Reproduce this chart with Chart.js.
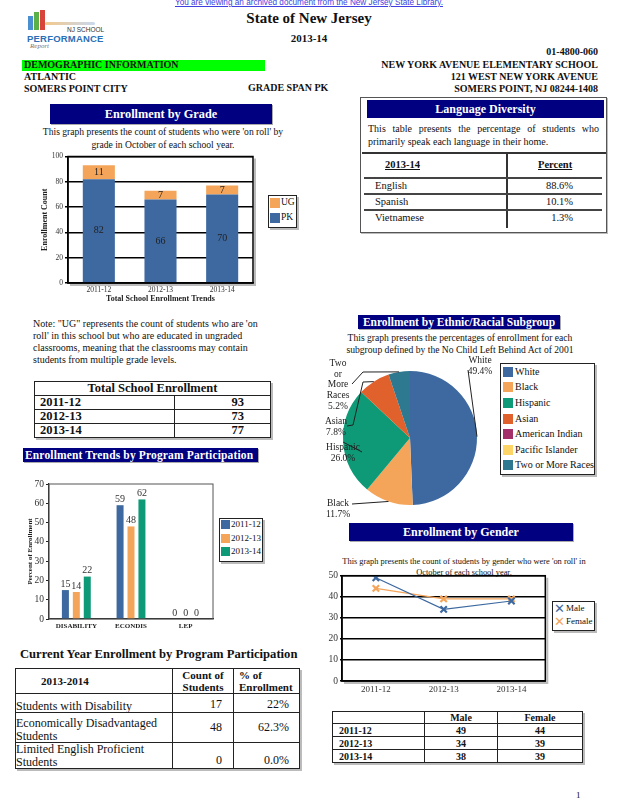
<!DOCTYPE html>
<html>
<head>
<meta charset="utf-8">
<script src="https://cdn.jsdelivr.net/npm/chart.js@4.4.1/dist/chart.umd.min.js"></script>
<style>
body { margin: 0; background: #fff; font-family: "Liberation Serif", "Times New Roman", serif; color: #111; }
#page { position: relative; width: 618px; height: 800px; overflow: hidden; }
.t { position: absolute; white-space: nowrap; line-height: 1; }
.b { font-weight: bold; }
.hdr { position: absolute; background: #000080; color: #fff; font-weight: bold; text-align: center; white-space: nowrap; box-shadow: 1px 1px 0 #aaa; }
canvas { position: absolute; }
table { position: absolute; border-collapse: collapse; table-layout: fixed; }
td { padding: 0; border: 1.5px solid #222; overflow: hidden; }
.lg { position: absolute; border: 1.5px solid #222; box-shadow: 2px 2px 0 #bbb; background: #fff; }
.lgi { position: absolute; white-space: nowrap; line-height: 1; }
.sw { display: inline-block; vertical-align: middle; }
</style>
</head>
<body>
<div id="page">
  <div class="t" style="left:0;width:618px;text-align:center;top:-1px;font-family:'Liberation Sans',Arial,sans-serif;font-size:8.2px;color:#4040e0;text-decoration:underline">You are viewing an archived document from the New Jersey State Library.</div>

  <!-- логотип -->
  <div style="position:absolute;left:28px;top:16px;width:5px;height:14px;background:#4a8fd0"></div>
  <div style="position:absolute;left:34px;top:12px;width:5px;height:18px;background:#5bb04a"></div>
  <div style="position:absolute;left:40px;top:10px;width:5px;height:20px;background:#d8443a"></div>
  <div style="position:absolute;left:45px;top:22px;width:50px;height:3px;background:linear-gradient(90deg,#f3c98a,#c9d8f0);border-radius:3px"></div>
  <div class="t" style="left:67px;top:27px;font-family:'Liberation Sans',sans-serif;font-size:6.5px;color:#333">NJ SCHOOL</div>
  <div class="t b" style="left:27px;top:34px;font-family:'Liberation Sans',sans-serif;font-size:9.5px;color:#2a6fb8;letter-spacing:0.2px">PERFORMANCE</div>
  <div class="t" style="left:30px;top:43px;font-family:'Liberation Serif',serif;font-style:italic;font-size:7px;color:#777">Report</div>

  <div class="t b" style="left:0;width:618px;text-align:center;top:11px;font-size:15px">State of New Jersey</div>
  <div class="t b" style="left:0;width:618px;text-align:center;top:33px;font-size:11px">2013-14</div>

  <div class="t b" style="right:20px;top:47px;font-size:10px">01-4800-060</div>
  <div style="position:absolute;left:22px;top:60px;width:243px;height:11px;background:#00ff00"></div>
  <div class="t b" style="left:24px;top:60px;font-size:10px">DEMOGRAPHIC INFORMATION</div>
  <div class="t b" style="right:20px;top:60px;font-size:10px">NEW YORK AVENUE ELEMENTARY SCHOOL</div>
  <div class="t b" style="left:24px;top:72px;font-size:10px">ATLANTIC</div>
  <div class="t b" style="right:20px;top:72px;font-size:10px">121 WEST NEW YORK AVENUE</div>
  <div class="t b" style="left:24px;top:84px;font-size:10px">SOMERS POINT CITY</div>
  <div class="t b" style="left:248px;top:83px;font-size:10px">GRADE SPAN PK</div>
  <div class="t b" style="right:20px;top:84px;font-size:10px">SOMERS POINT, NJ 08244-1408</div>

  <!-- Enrollment by Grade -->
  <div class="hdr" style="left:50px;top:104px;width:222px;height:20px;line-height:20px;font-size:12.3px">Enrollment by Grade</div>
  <div class="t" style="left:30px;width:266px;top:126px;text-align:center;font-size:9.6px;line-height:12.5px;white-space:normal">This graph presents the count of students who were 'on roll' by<br>grade in October of each school year.</div>
  <canvas id="gradeChart" width="222" height="160" style="left:38px;top:150px"></canvas>
  <div id="gradeLegend" class="lg" style="left:268px;top:195px;width:27px;height:31px"></div>

  <!-- Language Diversity -->
  <div style="position:absolute;left:360px;top:97px;width:245px;height:134px;border:1.5px solid #555;box-shadow:1px 1px 0 #bbb"></div>
  <div class="hdr" style="left:367px;top:100px;width:237px;height:18px;line-height:18px;font-size:12px;box-shadow:none">Language Diversity</div>
  <div style="position:absolute;left:368px;top:123px;width:231px;font-size:10px;line-height:12.5px;text-align:justify;text-align-last:left">This table presents the percentage of students who primarily speak each language in their home.</div>
  <div style="position:absolute;left:362px;top:152px;width:244px;height:1.5px;background:#333"></div>
  <div id="langTable"></div>

  <!-- Note + total -->
  <div style="position:absolute;left:33px;top:318px;width:240px;font-size:10px;line-height:12px">Note: "UG" represents the count of students who are 'on<br>roll' in this school but who are educated in ungraded<br>classrooms, meaning that the classrooms may contain<br>students from multiple grade levels.</div>
  <table id="totalTable" style="left:34px;top:381px;width:236px;box-shadow:2px 2px 0 #bbb"></table>

  <!-- Program participation -->
  <div class="hdr" style="left:23px;top:448px;width:235px;height:14px;line-height:14px;font-size:11.5px;letter-spacing:0.15px;text-align:left;padding-left:2px;box-sizing:border-box">Enrollment Trends by Program Participation</div>
  <canvas id="programChart" width="192" height="156" style="left:24px;top:476px"></canvas>
  <div id="programLegend" class="lg" style="left:219px;top:518px;width:42px;height:42px"></div>

  <div class="t b" style="left:20px;top:648px;font-size:12.6px">Current Year Enrollment by Program Participation</div>
  <table id="currentTable" style="left:15px;top:668px;width:284px;box-shadow:2px 2px 0 #bbb"></table>

  <!-- Ethnic -->
  <div class="hdr" style="left:358px;top:315px;width:202px;height:14px;line-height:14px;font-size:11.5px">Enrollment by Ethnic/Racial Subgroup</div>
  <div class="t" style="left:330px;width:260px;top:332px;text-align:center;font-size:9.6px;line-height:11.5px">This graph presents the percentages of enrollment for each<br>subgroup defined by the No Child Left Behind Act of 2001</div>
  <canvas id="raceChart" width="180" height="170" style="left:320px;top:352px"></canvas>
  <div id="raceLegend" class="lg" style="left:500px;top:363px;width:93px;height:110px"></div>

  <!-- Gender -->
  <div class="hdr" style="left:349px;top:523px;width:224px;height:18px;line-height:18px;font-size:12px">Enrollment by Gender</div>
  <div class="t" style="left:320px;width:288px;top:557px;text-align:center;font-size:8.4px;line-height:10.5px">This graph presents the count of students by gender who were 'on roll' in<br>October of each school year.</div>
  <canvas id="genderChart" width="232" height="128" style="left:320px;top:568px"></canvas>
  <div id="genderLegend" class="lg" style="left:552px;top:601px;width:41px;height:28px"></div>
  <table id="genderTable" style="left:332px;top:711px;width:250px;box-shadow:2px 2px 0 #bbb"></table>

  <div class="t" style="left:576px;top:791px;font-size:9px">1</div>
</div>

<script>
// Данные
const years = ['2011-12', '2012-13', '2013-14'];
const pkCounts = [82, 66, 70];
const ugCounts = [11, 7, 7];
const totalEnroll = [93, 73, 77];

const langNames = ['English', 'Spanish', 'Vietnamese'];
const langPct = ['88.6%', '10.1%', '1.3%'];

const programCats = ['DISABILITY', 'ECONDIS', 'LEP'];
const prog1112 = [15, 59, 0];
const prog1213 = [14, 48, 0];
const prog1314 = [22, 62, 0];

const currentRows = ['Students with Disability', 'Economically Disadvantaged Students', 'Limited English Proficient Students'];
const currentCounts = [17, 48, 0];
const currentPct = ['22%', '62.3%', '0.0%'];

const raceLabels = ['White', 'Black', 'Hispanic', 'Asian', 'American Indian', 'Pacific Islander', 'Two or More Races'];
const racePct = [49.4, 11.7, 26.0, 7.8, 0, 0, 5.2];

const maleCounts = [49, 34, 38];
const femaleCounts = [44, 39, 39];

// Цвета
const BLUE = '#3d69a0';
const ORANGE = '#f4a55a';
const GREEN = '#0e9a76';
const raceColors = [BLUE, ORANGE, GREEN, '#e0612b', '#a3306b', '#fdd466', '#2e7890'];
const SERIF = '"Liberation Serif", "Times New Roman", serif';

// Рамка вокруг области графика
const framePlugin = {
    id: 'frame',
    afterDraw(chart, args, opts) {
        const a = chart.chartArea;
        const ctx = chart.ctx;
        ctx.save();
        if (opts.shadow) {
            ctx.strokeStyle = '#bbb';
            ctx.lineWidth = 2;
            ctx.beginPath();
            ctx.moveTo(a.right + 2, a.top + 2);
            ctx.lineTo(a.right + 2, a.bottom + 2);
            ctx.lineTo(a.left + 2, a.bottom + 2);
            ctx.stroke();
        }
        ctx.strokeStyle = opts.color || '#000';
        ctx.lineWidth = opts.width || 1.5;
        ctx.strokeRect(a.left, a.top, a.right - a.left, a.bottom - a.top);
        ctx.restore();
    }
};

// Подписи значений на столбцах
const barValuesPlugin = {
    id: 'barValues',
    afterDatasetsDraw(chart, args, opts) {
        const ctx = chart.ctx;
        ctx.save();
        ctx.font = opts.font;
        ctx.fillStyle = opts.color;
        ctx.textAlign = 'center';
        chart.data.datasets.forEach((ds, i) => {
            chart.getDatasetMeta(i).data.forEach((bar, j) => {
                const v = ds.data[j];
                if (opts.inside) {
                    ctx.textBaseline = 'middle';
                    ctx.fillText(v, bar.x, (bar.y + bar.base) / 2);
                } else {
                    ctx.textBaseline = 'bottom';
                    ctx.fillText(v, bar.x, bar.y - 1);
                }
            });
        });
        ctx.restore();
    }
};

// Выноски для круговой диаграммы (смещения от центра круга)
const raceCallouts = {
    0: { dx: 70, dy: -82, path: [[58, -68]] },
    1: { dx: -72, dy: 61, path: [[-58, 66]] },
    2: { dx: -67, dy: 5, path: [[-48, 14]] },
    3: { dx: -74, dy: -21, path: [[-47, -56], [-57, -13], [-63, -12]] },
    6: { dx: -72, dy: -79, path: [[-47, -66], [-58, -54]] }
};

const pieCalloutPlugin = {
    id: 'pieCallouts',
    afterDatasetsDraw(chart) {
        const ctx = chart.ctx;
        const meta = chart.getDatasetMeta(0);
        ctx.save();
        ctx.strokeStyle = '#222';
        ctx.lineWidth = 1;
        ctx.fillStyle = '#222';
        ctx.font = '9.5px ' + SERIF;
        ctx.textAlign = 'center';
        ctx.textBaseline = 'top';
        meta.data.forEach((arc, i) => {
            const c = raceCallouts[i];
            if (!c || !racePct[i]) return;
            const mid = (arc.startAngle + arc.endAngle) / 2;
            const ex = arc.x + Math.cos(mid) * arc.outerRadius;
            const ey = arc.y + Math.sin(mid) * arc.outerRadius;
            ctx.beginPath();
            ctx.moveTo(ex, ey);
            c.path.forEach(p => ctx.lineTo(arc.x + p[0], arc.y + p[1]));
            ctx.stroke();
            const words = i === 6 ? raceLabels[i].replace(' Races', '').split(' ').concat(['Races']) : [raceLabels[i]];
            const lines = words.concat([racePct[i].toFixed(1) + '%']);
            lines.forEach((ln, k) => {
                ctx.fillText(ln, arc.x + c.dx, arc.y + c.dy + k * 10.6);
            });
        });
        ctx.restore();
    }
};

function tickFont(size, bold) {
    return { family: SERIF, size: size, weight: bold ? 'bold' : 'normal' };
}

// График 1: Enrollment by Grade
new Chart(document.getElementById('gradeChart'), {
    type: 'bar',
    data: {
        labels: years,
        datasets: [
            { label: 'PK', data: pkCounts, backgroundColor: BLUE, barPercentage: 0.52, categoryPercentage: 1 },
            { label: 'UG', data: ugCounts, backgroundColor: ORANGE, barPercentage: 0.52, categoryPercentage: 1 }
        ]
    },
    options: {
        responsive: false,
        animation: false,
        layout: { padding: { top: 6, right: 7, left: 0, bottom: 0 } },
        plugins: {
            legend: { display: false },
            tooltip: { enabled: false },
            frame: { color: '#000', width: 1.5, shadow: true },
            barValues: { font: '10px ' + SERIF, color: '#222', inside: true }
        },
        scales: {
            x: {
                stacked: true,
                grid: { display: false, drawTicks: false },
                border: { color: '#000', width: 1.5 },
                ticks: { font: tickFont(7.5), color: '#333', padding: 3 },
                title: { display: true, text: 'Total School Enrollment Trends', font: tickFont(8, true), color: '#222', padding: { top: 0, bottom: 6 } },
                afterFit: s => { s.height = 27; }
            },
            y: {
                stacked: true,
                min: 0,
                max: 100,
                ticks: { stepSize: 20, font: tickFont(7.5), color: '#333', padding: 2 },
                grid: { color: '#000', lineWidth: 1.5, tickLength: 3 },
                border: { color: '#000', width: 1.5 },
                title: { display: true, text: 'Enrollment Count', font: tickFont(8, true), color: '#222', padding: { top: 2, bottom: 0 } },
                afterFit: s => { s.width = 30; }
            }
        }
    },
    plugins: [framePlugin, barValuesPlugin]
});

// График 2: Program Participation
new Chart(document.getElementById('programChart'), {
    type: 'bar',
    data: {
        labels: programCats,
        datasets: [
            { label: '2011-12', data: prog1112, backgroundColor: BLUE },
            { label: '2012-13', data: prog1213, backgroundColor: ORANGE },
            { label: '2013-14', data: prog1314, backgroundColor: GREEN }
        ]
    },
    options: {
        responsive: false,
        animation: false,
        datasets: { bar: { barPercentage: 0.64, categoryPercentage: 0.6 } },
        layout: { padding: { top: 8, right: 3, left: 0, bottom: 0 } },
        plugins: {
            legend: { display: false },
            tooltip: { enabled: false },
            frame: { color: '#555', width: 1 },
            barValues: { font: '10px ' + SERIF, color: '#333', inside: false }
        },
        scales: {
            x: {
                grid: { display: false, drawTicks: false },
                border: { color: '#222', width: 1.2 },
                ticks: { font: tickFont(7, true), color: '#222', padding: 3 },
                afterFit: s => { s.height = 13; }
            },
            y: {
                min: 0,
                max: 70,
                ticks: { stepSize: 10, font: tickFont(9.5), color: '#333', padding: 2 },
                grid: { drawOnChartArea: false, color: '#222', tickLength: 3 },
                border: { color: '#222', width: 1.2 },
                title: { display: true, text: 'Percent of Enrollment', font: tickFont(7, true), color: '#222', padding: { top: 2, bottom: 0 } },
                afterFit: s => { s.width = 25; }
            }
        }
    },
    plugins: [framePlugin, barValuesPlugin]
});

// График 3: Ethnic/Racial
new Chart(document.getElementById('raceChart'), {
    type: 'pie',
    data: {
        labels: raceLabels,
        datasets: [{ data: racePct, backgroundColor: raceColors, borderWidth: 0 }]
    },
    options: {
        responsive: false,
        animation: false,
        layout: { padding: { left: 23, right: 23, top: 19, bottom: 17 } },
        plugins: { legend: { display: false }, tooltip: { enabled: false } }
    },
    plugins: [pieCalloutPlugin]
});

// График 4: Gender
new Chart(document.getElementById('genderChart'), {
    type: 'line',
    data: {
        labels: years,
        datasets: [
            { label: 'Male', data: maleCounts, borderColor: BLUE, backgroundColor: BLUE, borderWidth: 1.2, pointStyle: 'crossRot', pointRadius: 4.5, pointBorderWidth: 2.2 },
            { label: 'Female', data: femaleCounts, borderColor: ORANGE, backgroundColor: ORANGE, borderWidth: 1.2, pointStyle: 'crossRot', pointRadius: 4.5, pointBorderWidth: 2.2 }
        ]
    },
    options: {
        responsive: false,
        animation: false,
        layout: { padding: { top: 7, right: 4, left: 0, bottom: 0 } },
        plugins: {
            legend: { display: false },
            tooltip: { enabled: false },
            frame: { color: '#000', width: 1.5, shadow: true }
        },
        scales: {
            x: {
                offset: true,
                grid: { display: false, drawTicks: false },
                border: { color: '#000', width: 1.5 },
                ticks: { font: tickFont(9), color: '#333', padding: 3 },
                afterFit: s => { s.height = 15; }
            },
            y: {
                min: 0,
                max: 50,
                ticks: { stepSize: 10, font: tickFont(9.5), color: '#333', padding: 2 },
                grid: { color: '#000', lineWidth: 1.5, tickLength: 2 },
                border: { color: '#000', width: 1.5 },
                afterFit: s => { s.width = 22; }
            }
        }
    },
    plugins: [framePlugin]
});

// Легенды
function boxLegend(id, labels, colors, opt) {
    const el = document.getElementById(id);
    labels.forEach((lab, i) => {
        const d = document.createElement('div');
        d.className = 'lgi';
        d.style.left = opt.left + 'px';
        d.style.top = (opt.top + i * opt.step) + 'px';
        d.style.fontSize = opt.font + 'px';
        d.style.fontFamily = SERIF;
        const mark = opt.cross
            ? '<span class="sw" style="width:' + opt.sw + 'px;height:' + opt.sw + 'px;font-size:13px;line-height:' + opt.sw + 'px;color:' + colors[i] + ';font-family:\'DejaVu Sans\';font-weight:bold">✕</span>'
            : '<span class="sw" style="width:' + opt.sw + 'px;height:' + opt.sw + 'px;background:' + colors[i] + '"></span>';
        d.innerHTML = mark + '<span style="vertical-align:middle;margin-left:' + (opt.gap || 2) + 'px">' + lab + '</span>';
        el.appendChild(d);
    });
}
boxLegend('gradeLegend', ['UG', 'PK'], [ORANGE, BLUE], { left: 1, top: 2, step: 15, font: 9.5, sw: 10, gap: 1 });
boxLegend('programLegend', years, [BLUE, ORANGE, GREEN], { left: 1, top: 1, step: 13.5, font: 9, sw: 9, gap: 1 });
boxLegend('raceLegend', raceLabels, raceColors, { left: 2, top: 2, step: 15.6, font: 10, sw: 10, gap: 2 });
boxLegend('genderLegend', ['Male', 'Female'], [BLUE, ORANGE], { left: 1, top: 1, step: 13, font: 9, sw: 11, cross: true, gap: 1 });

// Таблицы
const lt = document.getElementById('langTable');
let html = '<div class="t b" style="left:385px;top:160px;font-size:10.5px;text-decoration:underline">2013-14</div>' +
    '<div class="t b" style="left:538px;top:160px;font-size:10.5px;text-decoration:underline">Percent</div>' +
    '<div style="position:absolute;left:506px;top:153px;width:1.5px;height:75px;background:#333"></div>';
const langRowTops = [177, 193, 209];
langNames.forEach((n, i) => {
    html += '<div style="position:absolute;left:364px;top:' + langRowTops[i] + 'px;width:238px;height:1.5px;background:#444"></div>';
    html += '<div class="t" style="left:375px;top:' + (langRowTops[i] + 4) + 'px;font-size:10.5px">' + n + '</div>';
    html += '<div class="t" style="right:45px;top:' + (langRowTops[i] + 4) + 'px;font-size:10.5px">' + langPct[i] + '</div>';
});
lt.innerHTML = html;

let tt = '<colgroup><col style="width:140px"><col style="width:96px"></colgroup>' +
    '<tr style="height:14px"><td colspan="2" class="b" style="text-align:center;font-size:12.5px;line-height:13px">Total School Enrollment</td></tr>';
years.forEach((y, i) => {
    tt += '<tr style="height:14px"><td class="b" style="font-size:12.5px;line-height:13px;padding-left:5px">' + y + '</td>' +
        '<td class="b" style="font-size:12.5px;line-height:13px;text-align:right;padding-right:26px">' + totalEnroll[i] + '</td></tr>';
});
document.getElementById('totalTable').innerHTML = tt;

let ct = '<colgroup><col style="width:157px"><col style="width:61px"><col style="width:66px"></colgroup>' +
    '<tr style="height:25px"><td class="b" style="font-size:11px;padding-left:25px">2013-2014</td>' +
    '<td class="b" style="font-size:11px;line-height:12px;text-align:center">Count of<br>Students</td>' +
    '<td class="b" style="font-size:11px;line-height:12px;padding-left:5px">% of<br>Enrollment</td></tr>';
const currentHeights = [19, 30, 22];
currentRows.forEach((r, i) => {
    const label = i === 0 ? r : r.replace(/ Students$/, '<br>Students');
    ct += '<tr style="height:' + currentHeights[i] + 'px"><td style="font-size:12px;line-height:12.5px;vertical-align:bottom">' + label + '</td>' +
        '<td style="font-size:12px;text-align:right;padding-right:11px;vertical-align:' + (i === 1 ? 'middle' : 'bottom') + '">' + currentCounts[i] + '</td>' +
        '<td style="font-size:12px;text-align:right;padding-right:10px;vertical-align:' + (i === 1 ? 'middle' : 'bottom') + '">' + currentPct[i] + '</td></tr>';
});
document.getElementById('currentTable').innerHTML = ct;

let gt = '<colgroup><col style="width:92px"><col style="width:73px"><col style="width:85px"></colgroup>' +
    '<tr style="height:12px"><td></td><td class="b" style="text-align:center;font-size:10px;line-height:11px">Male</td><td class="b" style="text-align:center;font-size:10px;line-height:11px">Female</td></tr>';
years.forEach((y, i) => {
    gt += '<tr style="height:13px"><td class="b" style="font-size:10px;line-height:11px;padding-left:6px">' + y + '</td>' +
        '<td class="b" style="text-align:center;font-size:10px;line-height:11px">' + maleCounts[i] + '</td>' +
        '<td class="b" style="text-align:center;font-size:10px;line-height:11px">' + femaleCounts[i] + '</td></tr>';
});
document.getElementById('genderTable').innerHTML = gt;
</script>
</body>
</html>
